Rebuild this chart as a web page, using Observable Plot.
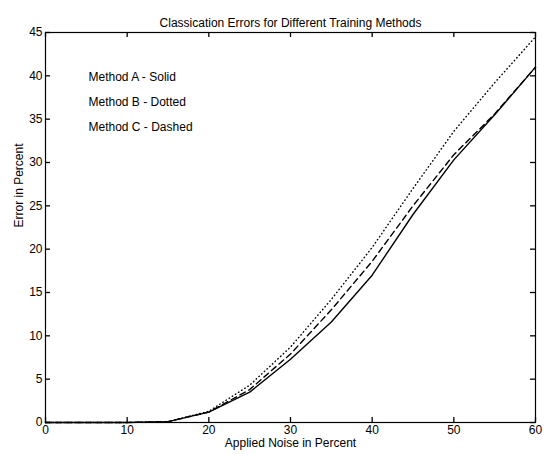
<!DOCTYPE html>
<html>
<head>
<meta charset="utf-8">
<script src="https://cdn.jsdelivr.net/npm/d3@7"></script>
<script src="https://cdn.jsdelivr.net/npm/@observablehq/plot@0.6"></script>
<style>
  html, body { margin: 0; padding: 0; background: #fff; }
  svg { font-family: "Liberation Sans", Arial, sans-serif; }
</style>
</head>
<body>
<div id="chart"></div>
<script>
const noise = [0, 5, 10, 15, 20, 25, 30, 35, 40, 45, 50, 55, 60];
const methodA = [0, 0, 0, 0.1, 1.2, 3.5, 7.3, 11.6, 17, 24, 30.3, 35.5, 41];
const methodB = [0, 0, 0, 0.1, 1.3, 4.3, 8.7, 14.2, 20.2, 27, 33.6, 39.2, 44.5];
const methodC = [0, 0, 0, 0.1, 1.2, 3.8, 7.9, 13, 18.6, 25, 30.9, 35.6, 41];
const xTicks = [0, 10, 20, 30, 40, 50, 60];
const yTicks = [0, 5, 10, 15, 20, 25, 30, 35, 40, 45];
const legendLabels = ["Method A - Solid", "Method B - Dotted", "Method C - Dashed"];
const title = "Classication Errors for Different Training Methods";
const xLabel = "Applied Noise in Percent";
const yLabel = "Error in Percent";

const rows = (vals) => noise.map((x, i) => ({x, y: vals[i]}));

const W = 545, H = 455, mT = 32, mB = 33, mL = 45, mR = 10, tick = 5;
const frameW = W - mL - mR, frameH = H - mT - mB;

const chart = Plot.plot({
  width: W,
  height: H,
  marginTop: mT,
  marginBottom: mB,
  marginLeft: mL,
  marginRight: mR,
  style: {fontSize: "12px", fontFamily: "Liberation Sans, Arial, sans-serif", color: "#000", background: "#fff"},
  x: {domain: [0, 60]},
  y: {domain: [0, 45]},
  marks: [
    Plot.frame({stroke: "#000", strokeWidth: 1.2}),
    Plot.axisX(xTicks, {anchor: "bottom", tickSize: 0, tickPadding: 3, fontSize: 12, label: null}),
    Plot.axisY(yTicks, {anchor: "left", tickSize: 0, tickPadding: 3, fontSize: 12, label: null}),
    Plot.ruleX(xTicks, {x: d => d, insetTop: frameH - tick, stroke: "#000", strokeWidth: 1.3}),
    Plot.ruleX(xTicks, {x: d => d, insetBottom: frameH - tick, stroke: "#000", strokeWidth: 1.3}),
    Plot.ruleY(yTicks, {y: d => d, insetRight: frameW - tick, stroke: "#000", strokeWidth: 1.3}),
    Plot.ruleY(yTicks, {y: d => d, insetLeft: frameW - tick, stroke: "#000", strokeWidth: 1.3}),
    Plot.line(rows(methodA), {x: "x", y: "y", stroke: "#000", strokeWidth: 1.4}),
    Plot.line(rows(methodB), {x: "x", y: "y", stroke: "#000", strokeWidth: 1.4, strokeDasharray: "0.5,3.2", strokeLinecap: "round"}),
    Plot.line(rows(methodC), {x: "x", y: "y", stroke: "#000", strokeWidth: 1.4, strokeDasharray: "6,4"}),
    Plot.text([title], {frameAnchor: "top", dy: -14, fontSize: 12, fill: "#000"}),
    Plot.text([xLabel], {frameAnchor: "bottom", dy: 24, fontSize: 12, fill: "#000"}),
    Plot.text([yLabel], {frameAnchor: "left", dx: -26, rotate: -90, fontSize: 12, fill: "#000"}),
    ...legendLabels.map((label, i) =>
      Plot.text([label], {frameAnchor: "top-left", dx: 43, dy: 40 + i * 25, textAnchor: "start", fontSize: 12, fill: "#000"}))
  ]
});
document.getElementById("chart").appendChild(chart);
</script>
</body>
</html>
